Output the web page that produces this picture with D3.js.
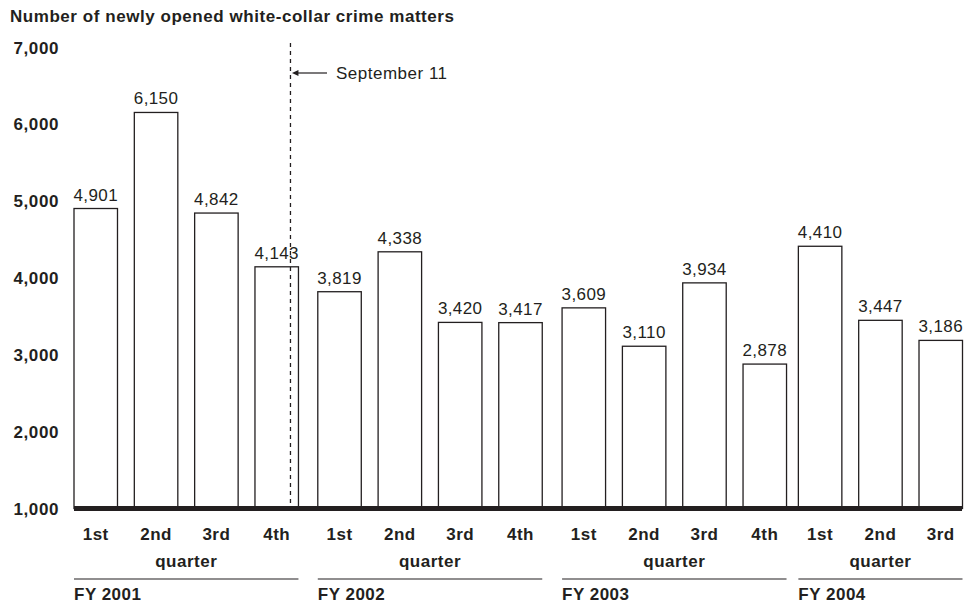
<!DOCTYPE html>
<html><head><meta charset="utf-8">
<script src="https://cdn.jsdelivr.net/npm/d3@7"></script>
<style>
body{margin:0;background:#fff;}
text{font-family:"Liberation Sans",Arial,Helvetica,sans-serif;fill:#231f20;}
</style></head>
<body><svg id="c" width="972" height="608"></svg>
<script>
const fiscalYears = ["FY 2001","FY 2002","FY 2003","FY 2004"];
const quarterLabels = ["1st","2nd","3rd","4th"];
const quarterCounts = [4,4,4,3];
const values = [4901,6150,4842,4143, 3819,4338,3420,3417, 3609,3110,3934,2878, 4410,3447,3186];
const yTicks = [1000,2000,3000,4000,5000,6000,7000];
const title = "Number of newly opened white-collar crime matters";
const eventLabel = "September 11";

const rows = [];
fiscalYears.forEach((fy,g)=>{ for(let q=0;q<quarterCounts[g];q++) rows.push({fy,g,q,key:fy+"-"+q}); });
rows.forEach((r,i)=>r.value=values[i]);

const svg = d3.select("#c");
const y = d3.scaleLinear().domain([1000,7000]).range([508.5,47.1]);
const x = d3.scaleBand().domain(rows.map(r=>r.key)).range([74,962]).paddingInner(0.279).paddingOuter(0);
const groupShift = [0,2.5,5.5,0.5];
const bw = x.bandwidth();
const bx = r => x(r.key) + groupShift[r.g];

const T = (sel, size, bold, ls) => sel.attr("font-size",size).attr("font-weight",bold?"bold":"normal").style("letter-spacing",(ls||0)+"px");

// title
T(svg.append("text").attr("x",10).attr("y",22), 17, true, 0.55).text(title);

// y axis labels
const yAxis = d3.axisLeft(y).tickValues(yTicks).tickFormat(d3.format(",")).tickSize(0).tickPadding(0);
const ya = svg.append("g").attr("transform","translate(59,0)").call(yAxis);
ya.select(".domain").remove();
T(ya.selectAll("text"), 17, true, 0.6).attr("fill","#231f20")
  .style("font-family","'Liberation Sans',Arial,sans-serif").attr("dy","0.35em");

// bars
svg.append("g").selectAll("rect").data(rows).join("rect")
  .attr("x",d=>bx(d)).attr("width",bw)
  .attr("y",d=>y(d.value)).attr("height",d=>y(1000)-y(d.value))
  .attr("fill","#fff").attr("stroke","#231f20").attr("stroke-width",1.3);

// value labels
T(svg.append("g").selectAll("text").data(rows).join("text")
  .attr("x",d=>bx(d)+bw/2).attr("y",d=>y(d.value)-8)
  .attr("text-anchor","middle"), 17, false, 0.4).text(d=>d3.format(",")(d.value));

// baseline
svg.append("line").attr("x1",74).attr("x2",962).attr("y1",y(1000)).attr("y2",y(1000))
  .attr("stroke","#231f20").attr("stroke-width",5);

// dashed event line
const ex = bx(rows[3]) + 35.5;
svg.append("line").attr("x1",ex).attr("x2",ex).attr("y1",43).attr("y2",y(1000)-2)
  .attr("stroke","#231f20").attr("stroke-width",1.3).attr("stroke-dasharray","4,4");
svg.append("line").attr("x1",327).attr("x2",ex+6).attr("y1",73).attr("y2",73)
  .attr("stroke","#231f20").attr("stroke-width",1.2);
svg.append("path").attr("d",`M${ex+1.5},73 L${ex+8},70 L${ex+8},76 Z`).attr("fill","#231f20");
T(svg.append("text").attr("x",336).attr("y",79), 17, false, 0.5).text(eventLabel);

// quarter labels
T(svg.append("g").selectAll("text").data(rows).join("text")
  .attr("x",d=>bx(d)+bw/2).attr("y",540).attr("text-anchor","middle"), 17, true, 0.5)
  .text(d=>quarterLabels[d.q]);

// groups
const groups = fiscalYears.map((fy,g)=>{
  const rs = rows.filter(r=>r.g===g);
  return {fy, x0: bx(rs[0]), x1: bx(rs[rs.length-1])+bw};
});
const gg = svg.append("g").selectAll("g").data(groups).join("g");
T(gg.append("text").attr("x",d=>(d.x0+d.x1)/2).attr("y",567).attr("text-anchor","middle"), 17, true, 0.5).text("quarter");
gg.append("line").attr("x1",d=>d.x0).attr("x2",d=>d.x1).attr("y1",579).attr("y2",579)
  .attr("stroke","#231f20").attr("stroke-width",1.2);
T(gg.append("text").attr("x",d=>d.x0).attr("y",600), 17, true, 0.5).text(d=>d.fy);
</script></body></html>
